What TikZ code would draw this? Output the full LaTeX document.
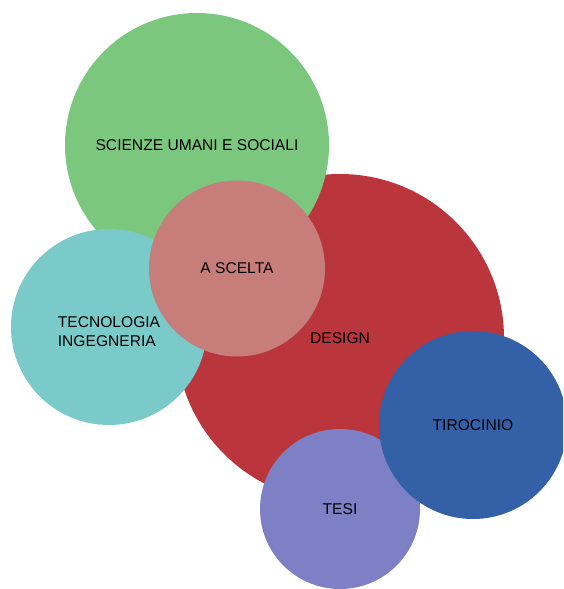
\documentclass[tikz,border=0pt]{standalone}
\usepackage{fontspec}
\setmainfont{Liberation Sans}
\usepackage{tikz}
\definecolor{designred}{RGB}{186,54,60}
\definecolor{sciencegreen}{RGB}{123,199,126}
\definecolor{techteal}{RGB}{122,202,202}
\definecolor{choicepink}{RGB}{199,125,122}
\definecolor{thesispurple}{RGB}{126,128,197}
\definecolor{internblue}{RGB}{51,96,166}

\begin{document}
\begin{tikzpicture}[x=1pt,y=-1pt, every node/.style={font=\fontsize{15.6}{19}\selectfont},
    bubble/.style={circle,inner sep=0pt,text=black,align=center}]
    \useasboundingbox (0,0) rectangle (563,589);
    \clip (0,0) rectangle (563,589);
    \node[bubble,fill=designred,minimum size=328pt] (design) at (340,338) {DESIGN};
    \node[bubble,fill=sciencegreen,minimum size=264pt] (scienze) at (197,145) {SCIENZE UMANI E SOCIALI};
    \node[bubble,fill=techteal,minimum size=196pt,
      label={[align=left,yshift=-5pt]center:TECNOLOGIA\\INGEGNERIA}] (tecno) at (109,327) {};
    \node[bubble,fill=choicepink,minimum size=176pt] (scelta) at (237,268.5) {A SCELTA};
    \node[bubble,fill=thesispurple,minimum size=160pt] (tesi) at (340,509) {TESI};
    \node[bubble,fill=internblue,minimum size=188pt] (tirocinio) at (473,425) {TIROCINIO};
  \end{tikzpicture}
\end{document}
